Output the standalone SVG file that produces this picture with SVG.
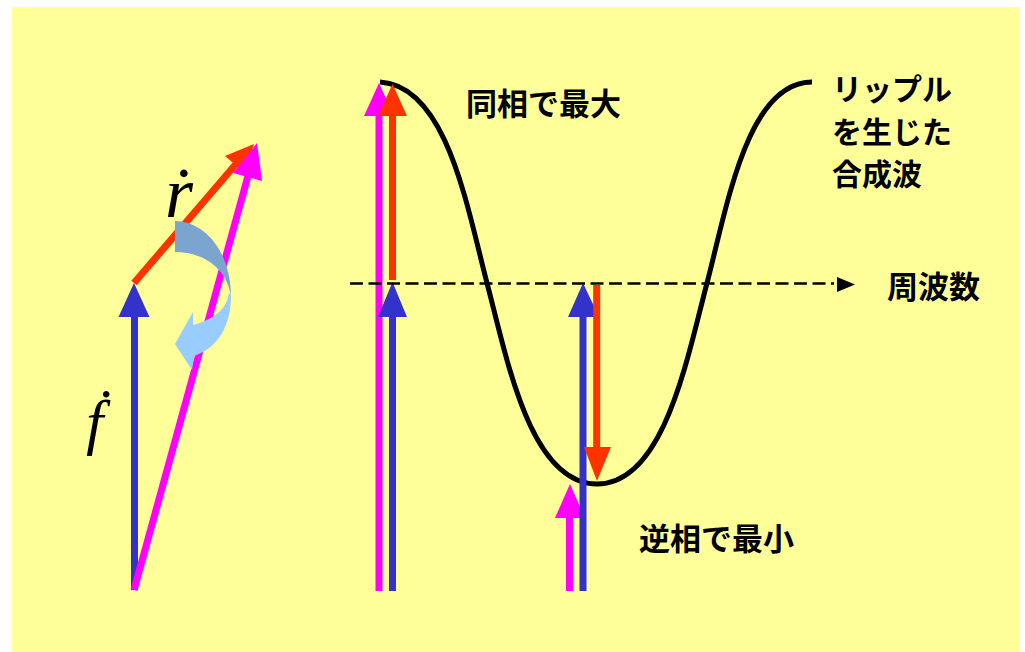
<svg xmlns="http://www.w3.org/2000/svg" width="1025" height="652" viewBox="0 0 1025 652">
<defs>
<style>
.jp{font-family:"Noto Sans CJK JP","Noto Sans CJK SC",sans-serif;font-weight:700;font-size:31px;fill:#000}
.jp2{font-size:30px}
.math{font-family:"Liberation Serif","DejaVu Serif",serif;font-style:italic;fill:#000}
.blue{stroke:#3333CC;stroke-width:7;fill:none}
.red{stroke:#FF3300;stroke-width:7;fill:none}
.mag{stroke:#FF00FF;stroke-width:7;fill:none}
.hb{fill:#3333CC}
.hr{fill:#FF3300}
.hm{fill:#FF00FF}
</style>
</defs>
<rect x="12" y="7" width="1008" height="645" fill="#FFFF99"/>

<g id="curve">
<path d="M380,82 C447,86 467,207 487,283 C507,359 530,484 597,484 C664,484 687,359 707,283 C727,207 747,82 812,82" fill="none" stroke="#000" stroke-width="5"/>
</g>

<g id="connectors">
<g id="vec-f">
<line class="blue" x1="134.5" y1="590" x2="134.5" y2="312"/>
<polygon class="hb" points="134,283 118.5,317 149.5,317"/>
</g>
<g id="vec-r">
<line class="red" x1="134" y1="283" x2="236" y2="164"/>
<polygon class="hr" points="254,144 225,156 245,173"/>
</g>
<g id="vec-sum">
<line class="mag" x1="134" y1="590" x2="248" y2="176" stroke-width="6.5"/>
<polygon class="hm" points="257,143 262,181 233,173"/>
</g>
<g id="inphase">
<line class="mag" x1="379" y1="591" x2="379" y2="110"/>
<polygon class="hm" points="379,83 364,116 394,116"/>
<line class="red" x1="392.5" y1="280" x2="392.5" y2="110"/>
<polygon class="hr" points="392.5,84 378,116 407,116"/>
<line class="blue" x1="392.5" y1="591" x2="392.5" y2="312"/>
<polygon class="hb" points="392.5,282 378,317 407,317"/>
</g>
<g id="antiphase">
<line class="mag" x1="569.5" y1="591" x2="569.5" y2="512"/>
<polygon class="hm" points="570,484 555,518 585,518"/>
<line class="blue" x1="583" y1="591" x2="583" y2="312"/>
<polygon class="hb" points="583,283 568,317 599,317"/>
<line class="red" x1="596.7" y1="285" x2="596.7" y2="452"/>
<polygon class="hr" points="597,481 584,447 611,447"/>
</g>
<g id="axis">
<line x1="350" y1="283.5" x2="834" y2="283.5" stroke="#000" stroke-width="2.5" stroke-dasharray="13,5.5"/>
<polygon points="837,277 837,292 855,284.5" fill="#000"/>
</g>
</g>

<g id="rotation-arrow">
<path d="M175,221 C208,222 231,255 231,297 C228,270 205,252 175,252 Z" fill="#7BA5CF"/>
<path d="M231,295 C231,326 218,348 194,356 L192,370 L175,344 L193,312 L193,325 C212,320 227,310 229,293 Z" fill="#99CCFF"/>
</g>

<g id="label-r"><text class="math" x="165" y="217" font-size="72">ṙ</text></g>
<g id="label-f"><text class="math" x="86" y="443" font-size="62">ḟ</text></g>

<g id="label-inphase"><text class="jp" x="466" y="115">同相で最大</text></g>
<g id="label-antiphase"><text class="jp" x="639" y="550">逆相で最小</text></g>
<g id="label-freq"><text class="jp" x="887" y="298">周波数</text></g>
<g id="label-ripple">
<text class="jp jp2" x="832" y="100">リップル</text>
<text class="jp jp2" x="832" y="143">を生じた</text>
<text class="jp jp2" x="832" y="185">合成波</text>
</g>
</svg>
